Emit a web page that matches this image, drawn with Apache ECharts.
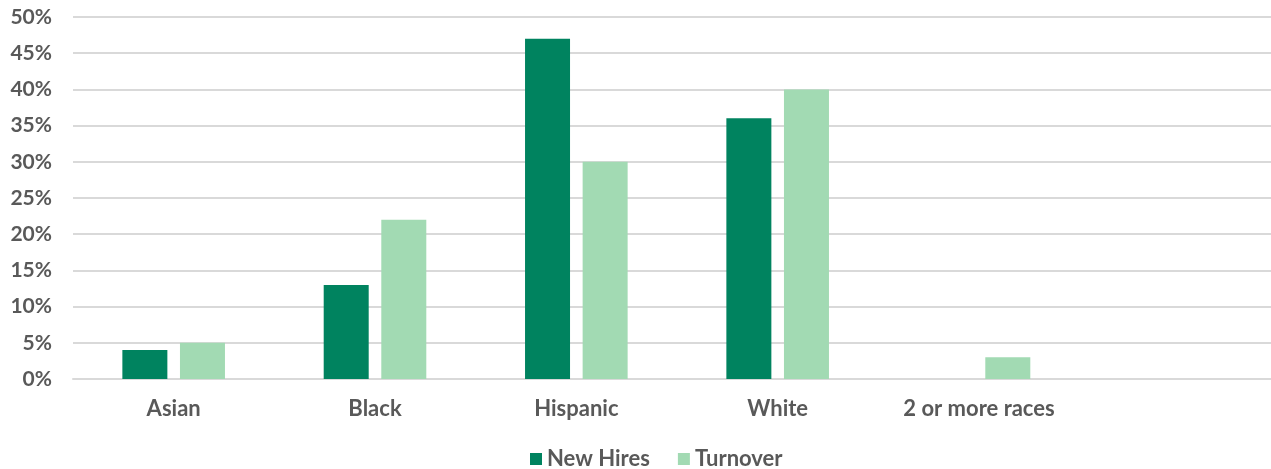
<!DOCTYPE html>
<html>
<head>
<meta charset="utf-8">
<style>
  html, body { margin: 0; padding: 0; background: #ffffff; }
  #chart { width: 1271px; height: 469px; }
</style>
<script src="https://cdn.jsdelivr.net/npm/echarts@6/dist/echarts.min.js"></script>
</head>
<body>
<div id="chart"></div>
<script>
// Share of new hires and turnover by race (percent)
const categories = ['Asian', 'Black', 'Hispanic', 'White', '2 or more races', ''];
const newHires = [4, 13, 47, 36, 0, null];
const turnover = [5, 22, 30, 40, 3, null];
const yTicks = [0, 5, 10, 15, 20, 25, 30, 35, 40, 45, 50];

const textColor = '#595959';
const gridColor = '#d9d9d9';
const fontFamily = 'Lato, "Open Sans", sans-serif';

const chart = echarts.init(document.getElementById('chart'), null, { renderer: 'canvas' });
chart.setOption({
  animation: false,
  backgroundColor: '#ffffff',
  textStyle: { fontFamily: fontFamily },
  grid: {
    left: 73, top: 17, width: 1208, height: 362,
    containLabel: false, outerBoundsMode: 'none'
  },
  legend: {
    left: 525,
    top: 443,
    itemWidth: 12,
    itemHeight: 12,
    itemGap: 28,
    icon: 'rect',
    textStyle: { color: textColor, fontSize: 22, fontWeight: 'bold', fontFamily: fontFamily },
    data: ['New Hires', 'Turnover']
  },
  xAxis: {
    type: 'category',
    data: categories,
    axisLine: { show: true, lineStyle: { color: gridColor, width: 2 } },
    axisTick: { show: false },
    axisLabel: { color: textColor, fontSize: 22, fontWeight: 'bold', margin: 19, fontFamily: fontFamily }
  },
  yAxis: {
    type: 'value',
    min: yTicks[0],
    max: yTicks[yTicks.length - 1],
    interval: 5,
    axisLine: { show: false },
    axisTick: { show: false },
    splitLine: { lineStyle: { color: gridColor, width: 2 } },
    axisLabel: {
      color: textColor, fontSize: 21, fontWeight: 'bold', margin: 21, fontFamily: fontFamily,
      formatter: v => v + '%'
    }
  },
  series: [
    {
      name: 'New Hires',
      type: 'bar',
      data: newHires,
      barWidth: 45,
      barGap: '28%',
      itemStyle: { color: '#00835f' }
    },
    {
      name: 'Turnover',
      type: 'bar',
      data: turnover,
      barWidth: 45,
      barGap: '28%',
      itemStyle: { color: '#a2dab3' }
    }
  ]
});
</script>
</body>
</html>
